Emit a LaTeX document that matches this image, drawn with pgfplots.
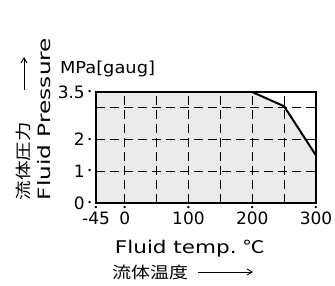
\documentclass[border=0pt]{standalone}
\usepackage{pgfplots}
\pgfplotsset{compat=1.18}
\usetikzlibrary{arrows.meta}
\usepackage{fontspec}
\usepackage{graphicx}
\setmainfont{DejaVu Sans}
\newfontfamily\cjk{Noto Sans CJK JP}
\newcommand\fitw[2]{\resizebox{#1}{\height}{#2}}
\newcommand\tickdot{{\fontsize{8}{8}\selectfont •}}
% y label with a dot to its right
\newcommand\yl[1]{#1\rlap{\hspace{2.6pt}\raisebox{3.8pt}[0pt][0pt]{\tickdot}}}
% x label with a dot above its centre (second argument: half label width minus half dot width)
\newcommand\xl[2]{\rlap{\hspace{#2}\raisebox{14.5pt}[0pt][0pt]{\tickdot}}#1}
\begin{document}
\begin{tikzpicture}[x=1pt,y=1pt]
\useasboundingbox (0,0) rectangle (335,285);
\begin{axis}[
  at={(96pt,82pt)}, anchor=south west,
  scale only axis, width=220pt, height=111pt,
  xmin=-45, xmax=300, ymin=0, ymax=3.5,
  xtick={-45,0,100,200,300},
  xticklabels={{\xl{-45}{11.5pt}},{\xl{0}{3.05pt}},{\xl{100}{13.85pt}},{\xl{200}{13.85pt}},{\xl{300}{13.85pt}}},
  ytick={0,1,2,3.5}, yticklabels={\yl{0},\yl{1},\yl{2},\yl{3.5}},
  minor xtick={0,50,100,150,200,250}, minor ytick={1,2,3},
  xtick pos=bottom, ytick pos=left,
  xminorgrids, yminorgrids,
  minor grid style={black, line width=1.1pt, dash pattern=on 9pt off 5pt},
  axis line style={line width=1.8pt},
  major tick length=0pt, minor tick length=0pt,
  major tick style={draw=none},
  minor tick style={draw=none},
  axis on top,
  ticklabel style={font=\fontsize{17}{20}\selectfont},
  xticklabel style={inner sep=0pt, anchor=north, yshift=-9pt},
  yticklabel style={inner sep=0pt, anchor=east, xshift=-11pt},
]
\addplot[fill=gray!16, draw=none] coordinates {(-45,0) (-45,3.5) (200,3.5) (250,3.05) (300,1.5) (300,0)} -- cycle;
\addplot[black, line width=2pt] coordinates {(200,3.5) (250,3.05) (300,1.5)};
\end{axis}
\node[inner sep=0pt] at (107.5,216) {\fitw{95pt}{\fontsize{16.5}{20}\selectfont MPa[gaug]}};
\node[inner sep=0pt] at (190,36) {\fitw{150pt}{\fontsize{17.5}{20}\selectfont Fluid temp.\ {\cjk ℃}}};
\node[inner sep=0pt] at (150,13) {\fitw{76pt}{\cjk\fontsize{16}{18}\selectfont 流体温度}};
\node[inner sep=0pt, rotate=90] at (23.5,124) {\fitw{78pt}{\cjk\fontsize{16}{18}\selectfont 流体圧力}};
\node[inner sep=0pt, rotate=90] at (44,166) {\fitw{162pt}{\fontsize{17}{20}\selectfont Fluid Pressure}};
\draw[line width=0.9pt, -{Straight Barb[length=5pt,width=6pt]}] (24,195) -- (24,228);
\draw[line width=0.9pt, -{Straight Barb[length=5pt,width=6pt]}] (198,13) -- (253,13);
\end{tikzpicture}
\end{document}
